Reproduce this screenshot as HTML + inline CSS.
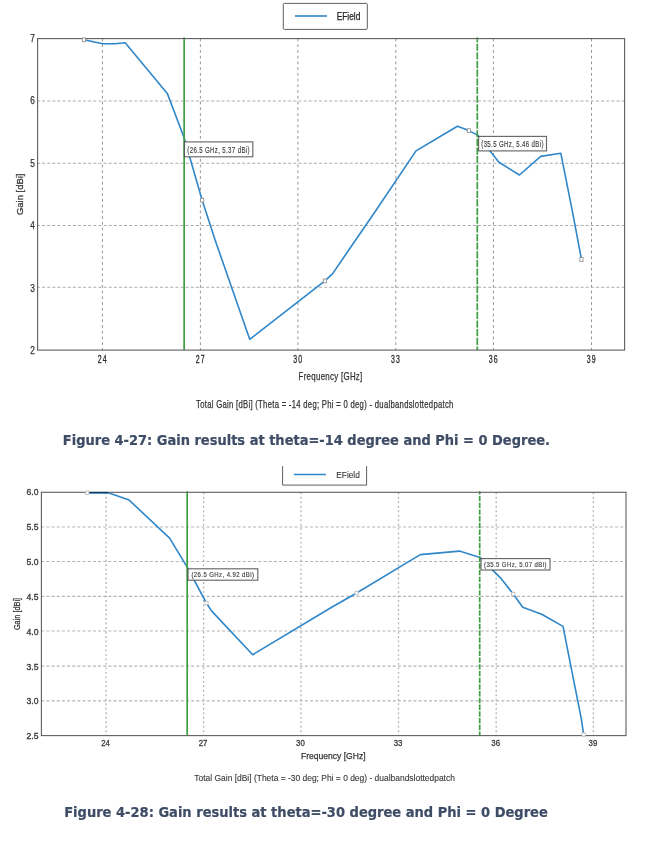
<!DOCTYPE html><html><head><meta charset="utf-8"><title>Gain results</title>
<style>html,body{margin:0;padding:0;background:#fff}svg{display:block}text{font-family:"Liberation Sans",sans-serif}text.cap{font-family:"DejaVu Sans Condensed","DejaVu Sans","Liberation Sans",sans-serif;font-stretch:condensed}</style></head><body>
<svg width="658" height="844" viewBox="0 0 658 844">
<rect width="658" height="844" fill="#fff"/>
<line x1="102.4" y1="38.6" x2="102.4" y2="350.1" stroke="#868686" stroke-width="0.9" stroke-dasharray="2.7 3.03"/>
<line x1="200.4" y1="38.6" x2="200.4" y2="350.1" stroke="#868686" stroke-width="0.9" stroke-dasharray="2.7 3.03"/>
<line x1="297.9" y1="38.6" x2="297.9" y2="350.1" stroke="#868686" stroke-width="0.9" stroke-dasharray="2.7 3.03"/>
<line x1="395.8" y1="38.6" x2="395.8" y2="350.1" stroke="#868686" stroke-width="0.9" stroke-dasharray="2.7 3.03"/>
<line x1="493.4" y1="38.6" x2="493.4" y2="350.1" stroke="#868686" stroke-width="0.9" stroke-dasharray="2.7 3.03"/>
<line x1="591.5" y1="38.6" x2="591.5" y2="350.1" stroke="#868686" stroke-width="0.9" stroke-dasharray="2.7 3.03"/>
<line x1="37.6" y1="101.0" x2="624.6" y2="101.0" stroke="#ababab" stroke-width="1.1" stroke-dasharray="3 2.129" stroke-dashoffset="0.69"/>
<line x1="37.6" y1="163.2" x2="624.6" y2="163.2" stroke="#ababab" stroke-width="1.1" stroke-dasharray="3 2.129" stroke-dashoffset="0.69"/>
<line x1="37.6" y1="225.5" x2="624.6" y2="225.5" stroke="#ababab" stroke-width="1.1" stroke-dasharray="3 2.129" stroke-dashoffset="0.69"/>
<line x1="37.6" y1="287.3" x2="624.6" y2="287.3" stroke="#ababab" stroke-width="1.1" stroke-dasharray="3 2.129" stroke-dashoffset="0.69"/>
<polyline fill="none" stroke="#2f86c9" stroke-width="1.6" stroke-linejoin="round" points="84,39.8 102.6,43.8 115.1,43.8 125.2,42.8 167.3,93.4 184.1,137.8 202.2,200.2 215.1,240 249.7,339.3 324.9,280.9 332.5,273.9 345,255.5 376.4,209.8 416,150.9 457.4,126.3 468.9,130.6 477.6,135.1 498.9,162.2 519.4,175 540.7,156.4 560.8,153.2 572.1,209.8 581.5,259.5"/>
<line x1="184.15" y1="37.6" x2="184.15" y2="350.1" stroke="#3e9e40" stroke-width="1.7"/>
<line x1="477.3" y1="37.6" x2="477.3" y2="350.1" stroke="#3e9e40" stroke-width="1.7" stroke-dasharray="7.2 1.45" stroke-dashoffset="2.6"/>
<rect x="37.6" y="38.6" width="587.0" height="311.5" fill="none" stroke="#5e5e5e" stroke-width="1.1"/>
<rect x="82.40" y="37.90" width="3.2" height="3.80" fill="#fff" stroke="#8c8c8c" stroke-width="0.8"/>
<rect x="200.60" y="198.30" width="3.2" height="3.80" fill="#fff" stroke="#8c8c8c" stroke-width="0.8"/>
<rect x="323.30" y="279.00" width="3.2" height="3.80" fill="#fff" stroke="#8c8c8c" stroke-width="0.8"/>
<rect x="467.30" y="128.70" width="3.2" height="3.80" fill="#fff" stroke="#8c8c8c" stroke-width="0.8"/>
<rect x="579.90" y="257.60" width="3.2" height="3.80" fill="#fff" stroke="#8c8c8c" stroke-width="0.8"/>
<text x="34.9" y="41.9" font-size="10.0" text-anchor="end" fill="#333" textLength="4.6" lengthAdjust="spacingAndGlyphs" stroke="#333" stroke-width="0.25">7</text>
<text x="34.9" y="104.41" font-size="10.0" text-anchor="end" fill="#333" textLength="4.6" lengthAdjust="spacingAndGlyphs" stroke="#333" stroke-width="0.25">6</text>
<text x="34.9" y="166.92" font-size="10.0" text-anchor="end" fill="#333" textLength="4.6" lengthAdjust="spacingAndGlyphs" stroke="#333" stroke-width="0.25">5</text>
<text x="34.9" y="229.43" font-size="10.0" text-anchor="end" fill="#333" textLength="4.6" lengthAdjust="spacingAndGlyphs" stroke="#333" stroke-width="0.25">4</text>
<text x="34.9" y="291.94" font-size="10.0" text-anchor="end" fill="#333" textLength="4.6" lengthAdjust="spacingAndGlyphs" stroke="#333" stroke-width="0.25">3</text>
<text x="34.9" y="354.45" font-size="10.0" text-anchor="end" fill="#333" textLength="4.6" lengthAdjust="spacingAndGlyphs" stroke="#333" stroke-width="0.25">2</text>
<text transform="translate(102.65,363.0) scale(0.7,1)" font-size="10" text-anchor="middle" fill="#2a2a2a" stroke="#2a2a2a" stroke-width="0.3" letter-spacing="1.6">24</text>
<text transform="translate(200.65,363.0) scale(0.7,1)" font-size="10" text-anchor="middle" fill="#2a2a2a" stroke="#2a2a2a" stroke-width="0.3" letter-spacing="1.6">27</text>
<text transform="translate(298.15,363.0) scale(0.7,1)" font-size="10" text-anchor="middle" fill="#2a2a2a" stroke="#2a2a2a" stroke-width="0.3" letter-spacing="1.6">30</text>
<text transform="translate(396.05,363.0) scale(0.7,1)" font-size="10" text-anchor="middle" fill="#2a2a2a" stroke="#2a2a2a" stroke-width="0.3" letter-spacing="1.6">33</text>
<text transform="translate(493.65,363.0) scale(0.7,1)" font-size="10" text-anchor="middle" fill="#2a2a2a" stroke="#2a2a2a" stroke-width="0.3" letter-spacing="1.6">36</text>
<text transform="translate(591.75,363.0) scale(0.7,1)" font-size="10" text-anchor="middle" fill="#2a2a2a" stroke="#2a2a2a" stroke-width="0.3" letter-spacing="1.6">39</text>
<text x="23.5" y="194.3" font-size="9.4" text-anchor="middle" fill="#333" textLength="41.5" lengthAdjust="spacingAndGlyphs" stroke="#333" stroke-width="0.25" transform="rotate(-90 23.5 194.3)">Gain [dBi]</text>
<text x="330.6" y="379.9" font-size="10.5" text-anchor="middle" fill="#333" textLength="64.0" lengthAdjust="spacingAndGlyphs" stroke="#333" stroke-width="0.25" letter-spacing="0.4">Frequency [GHz]</text>
<text x="324.85" y="408.4" font-size="10.5" text-anchor="middle" fill="#333" textLength="257.7" lengthAdjust="spacingAndGlyphs" stroke="#333" stroke-width="0.25" letter-spacing="0.4">Total Gain [dBi] (Theta = -14 deg; Phi = 0 deg) - dualbandslottedpatch</text>
<rect x="283.3" y="3.4" width="84" height="26" rx="1" fill="#fff" stroke="#5e5e5e" stroke-width="1"/>
<line x1="295" y1="16" x2="327" y2="16" stroke="#2f86c9" stroke-width="1.6"/>
<text x="336.7" y="19.9" font-size="10.5" text-anchor="start" fill="#222" textLength="23.6" lengthAdjust="spacingAndGlyphs" stroke="#222" stroke-width="0.25">EField</text>
<rect x="184.4" y="141.9" width="68.4" height="14.9" fill="#fff" fill-opacity="0.93" stroke="#3c3c3c" stroke-opacity="0.78" stroke-width="1.15"/>
<text x="218.60000000000002" y="152.75" font-size="8.6" text-anchor="middle" fill="#3d3d3d" textLength="62.6" lengthAdjust="spacingAndGlyphs" stroke="#3d3d3d" stroke-width="0.15" letter-spacing="0.5">(26.5 GHz, 5.37 dBi)</text>
<rect x="478.6" y="136.4" width="67.9" height="14.5" fill="#fff" fill-opacity="0.93" stroke="#3c3c3c" stroke-opacity="0.78" stroke-width="1.15"/>
<text x="512.5500000000001" y="147.05" font-size="8.6" text-anchor="middle" fill="#3d3d3d" textLength="62.6" lengthAdjust="spacingAndGlyphs" stroke="#3d3d3d" stroke-width="0.15" letter-spacing="0.5">(35.5 GHz, 5.46 dBi)</text>
<text x="62.8" y="445.25" font-size="14.45" text-anchor="start" fill="#3e4c66" font-weight="bold" textLength="487.2" lengthAdjust="spacingAndGlyphs" stroke="#3e4c66" stroke-width="0.2" class="cap">Figure 4-27: Gain results at theta=-14 degree and Phi = 0 Degree.</text>
<path d="M282.6 466.1V485.1H366.6V466.1" fill="#fff" stroke="#5e5e5e" stroke-width="1"/>
<line x1="293.9" y1="474.5" x2="326" y2="474.5" stroke="#2f86c9" stroke-width="1.5"/>
<text x="336.3" y="477.7" font-size="8.2" text-anchor="start" fill="#333" textLength="23.5" lengthAdjust="spacingAndGlyphs" stroke="#333" stroke-width="0.1">EField</text>
<line x1="106.1" y1="492.3" x2="106.1" y2="735.6" stroke="#b4b4b4" stroke-width="1.3" stroke-dasharray="1.9 2.59"/>
<line x1="203.6" y1="492.3" x2="203.6" y2="735.6" stroke="#b4b4b4" stroke-width="1.3" stroke-dasharray="1.9 2.59"/>
<line x1="300.9" y1="492.3" x2="300.9" y2="735.6" stroke="#b4b4b4" stroke-width="1.3" stroke-dasharray="1.9 2.59"/>
<line x1="398.5" y1="492.3" x2="398.5" y2="735.6" stroke="#b4b4b4" stroke-width="1.3" stroke-dasharray="1.9 2.59"/>
<line x1="496.2" y1="492.3" x2="496.2" y2="735.6" stroke="#b4b4b4" stroke-width="1.3" stroke-dasharray="1.9 2.59"/>
<line x1="593.4" y1="492.3" x2="593.4" y2="735.6" stroke="#b4b4b4" stroke-width="1.3" stroke-dasharray="1.9 2.59"/>
<line x1="41.4" y1="527.0" x2="626.0" y2="527.0" stroke="#b4b4b4" stroke-width="1.1" stroke-dasharray="3 2.17" stroke-dashoffset="0.2"/>
<line x1="41.4" y1="561.5" x2="626.0" y2="561.5" stroke="#b4b4b4" stroke-width="1.1" stroke-dasharray="3 2.17" stroke-dashoffset="0.2"/>
<line x1="41.4" y1="596.4" x2="626.0" y2="596.4" stroke="#b4b4b4" stroke-width="1.1" stroke-dasharray="3 2.17" stroke-dashoffset="0.2"/>
<line x1="41.4" y1="631.0" x2="626.0" y2="631.0" stroke="#b4b4b4" stroke-width="1.1" stroke-dasharray="3 2.17" stroke-dashoffset="0.2"/>
<line x1="41.4" y1="666.1" x2="626.0" y2="666.1" stroke="#b4b4b4" stroke-width="1.1" stroke-dasharray="3 2.17" stroke-dashoffset="0.2"/>
<line x1="41.4" y1="700.9" x2="626.0" y2="700.9" stroke="#b4b4b4" stroke-width="1.1" stroke-dasharray="3 2.17" stroke-dashoffset="0.2"/>
<polyline fill="none" stroke="#2f86c9" stroke-width="1.6" stroke-linejoin="round" points="87.3,492.7 108.3,492.7 129.1,500.1 169.6,538.1 187.2,567.2 206.4,603.0 211.3,610.6 252.7,654.7 330,608.3 356.6,593 420.3,554.6 459.4,551.1 480,557.4 501.4,578.9 513.2,594 522.7,607.3 541.7,614.3 563,626.4 581.5,719.8 583.6,734.5"/>
<line x1="187.2" y1="491.3" x2="187.2" y2="735.6" stroke="#3e9e40" stroke-width="1.7"/>
<line x1="479.7" y1="491.3" x2="479.7" y2="735.6" stroke="#3e9e40" stroke-width="1.7" stroke-dasharray="5.4 1.33" stroke-dashoffset="2.1"/>
<rect x="41.4" y="492.3" width="584.6" height="243.3" fill="none" stroke="#5e5e5e" stroke-width="1.1"/>
<polyline fill="none" stroke="#2f86c9" stroke-width="1.6" style="mix-blend-mode:multiply" points="87.3,492.7 108.3,492.7"/>
<rect x="85.65" y="491.05" width="3.3" height="3.30" fill="#fff" stroke="#b8b8b8" stroke-width="0.8"/>
<rect x="204.75" y="601.35" width="3.3" height="3.30" fill="#fff" stroke="#b8b8b8" stroke-width="0.8"/>
<rect x="354.95" y="591.35" width="3.3" height="3.30" fill="#fff" stroke="#b8b8b8" stroke-width="0.8"/>
<rect x="511.55" y="592.35" width="3.3" height="3.30" fill="#fff" stroke="#b8b8b8" stroke-width="0.8"/>
<rect x="581.95" y="732.85" width="3.3" height="3.30" fill="#fff" stroke="#b8b8b8" stroke-width="0.8"/>
<text x="38.5" y="495.0" font-size="8.9" text-anchor="end" fill="#3a3a3a" textLength="11.9" lengthAdjust="spacingAndGlyphs" stroke="#3a3a3a" stroke-width="0.35">6.0</text>
<text x="38.5" y="529.9" font-size="8.9" text-anchor="end" fill="#3a3a3a" textLength="11.9" lengthAdjust="spacingAndGlyphs" stroke="#3a3a3a" stroke-width="0.35">5.5</text>
<text x="38.5" y="564.8" font-size="8.9" text-anchor="end" fill="#3a3a3a" textLength="11.9" lengthAdjust="spacingAndGlyphs" stroke="#3a3a3a" stroke-width="0.35">5.0</text>
<text x="38.5" y="599.7" font-size="8.9" text-anchor="end" fill="#3a3a3a" textLength="11.9" lengthAdjust="spacingAndGlyphs" stroke="#3a3a3a" stroke-width="0.35">4.5</text>
<text x="38.5" y="634.6" font-size="8.9" text-anchor="end" fill="#3a3a3a" textLength="11.9" lengthAdjust="spacingAndGlyphs" stroke="#3a3a3a" stroke-width="0.35">4.0</text>
<text x="38.5" y="669.5" font-size="8.9" text-anchor="end" fill="#3a3a3a" textLength="11.9" lengthAdjust="spacingAndGlyphs" stroke="#3a3a3a" stroke-width="0.35">3.5</text>
<text x="38.5" y="704.4" font-size="8.9" text-anchor="end" fill="#3a3a3a" textLength="11.9" lengthAdjust="spacingAndGlyphs" stroke="#3a3a3a" stroke-width="0.35">3.0</text>
<text x="38.5" y="739.3" font-size="8.9" text-anchor="end" fill="#3a3a3a" textLength="11.9" lengthAdjust="spacingAndGlyphs" stroke="#3a3a3a" stroke-width="0.35">2.5</text>
<text x="105.6" y="745.9" font-size="9.0" text-anchor="middle" fill="#3a3a3a" textLength="8.7" lengthAdjust="spacingAndGlyphs" stroke="#3a3a3a" stroke-width="0.3">24</text>
<text x="203.1" y="745.9" font-size="9.0" text-anchor="middle" fill="#3a3a3a" textLength="8.7" lengthAdjust="spacingAndGlyphs" stroke="#3a3a3a" stroke-width="0.3">27</text>
<text x="300.4" y="745.9" font-size="9.0" text-anchor="middle" fill="#3a3a3a" textLength="8.7" lengthAdjust="spacingAndGlyphs" stroke="#3a3a3a" stroke-width="0.3">30</text>
<text x="398.0" y="745.9" font-size="9.0" text-anchor="middle" fill="#3a3a3a" textLength="8.7" lengthAdjust="spacingAndGlyphs" stroke="#3a3a3a" stroke-width="0.3">33</text>
<text x="495.7" y="745.9" font-size="9.0" text-anchor="middle" fill="#3a3a3a" textLength="8.7" lengthAdjust="spacingAndGlyphs" stroke="#3a3a3a" stroke-width="0.3">36</text>
<text x="592.9" y="745.9" font-size="9.0" text-anchor="middle" fill="#3a3a3a" textLength="8.7" lengthAdjust="spacingAndGlyphs" stroke="#3a3a3a" stroke-width="0.3">39</text>
<text x="20.0" y="614" font-size="9.8" text-anchor="middle" fill="#333" textLength="32.2" lengthAdjust="spacingAndGlyphs" stroke="#333" stroke-width="0.25" transform="rotate(-90 20.0 614)">Gain [dBi]</text>
<text x="333.3" y="759.2" font-size="9.2" text-anchor="middle" fill="#333" textLength="64.6" lengthAdjust="spacingAndGlyphs" stroke="#333" stroke-width="0.25">Frequency [GHz]</text>
<text x="324.6" y="780.8" font-size="8.7" text-anchor="middle" fill="#3a3a3a" textLength="260.6" lengthAdjust="spacingAndGlyphs" stroke="#3a3a3a" stroke-width="0.12">Total Gain [dBi] (Theta = -30 deg; Phi = 0 deg) - dualbandslottedpatch</text>
<rect x="188.0" y="568.8" width="69.8" height="11.4" fill="#fff" fill-opacity="0.93" stroke="#3c3c3c" stroke-opacity="0.78" stroke-width="1.15"/>
<text x="222.9" y="577.0" font-size="6.8" text-anchor="middle" fill="#3d3d3d" textLength="63.0" lengthAdjust="spacingAndGlyphs" stroke="#3d3d3d" stroke-width="0.15" letter-spacing="0.5">(26.5 GHz, 4.92 dBi)</text>
<rect x="481.0" y="558.6" width="69.0" height="11.4" fill="#fff" fill-opacity="0.93" stroke="#3c3c3c" stroke-opacity="0.78" stroke-width="1.15"/>
<text x="515.5" y="566.7" font-size="6.8" text-anchor="middle" fill="#3d3d3d" textLength="62.9" lengthAdjust="spacingAndGlyphs" stroke="#3d3d3d" stroke-width="0.15" letter-spacing="0.5">(35.5 GHz, 5.07 dBi)</text>
<text x="64.2" y="817.35" font-size="14.45" text-anchor="start" fill="#3e4c66" font-weight="bold" textLength="483.6" lengthAdjust="spacingAndGlyphs" stroke="#3e4c66" stroke-width="0.2" class="cap">Figure 4-28: Gain results at theta=-30 degree and Phi = 0 Degree</text>
</svg></body></html>
